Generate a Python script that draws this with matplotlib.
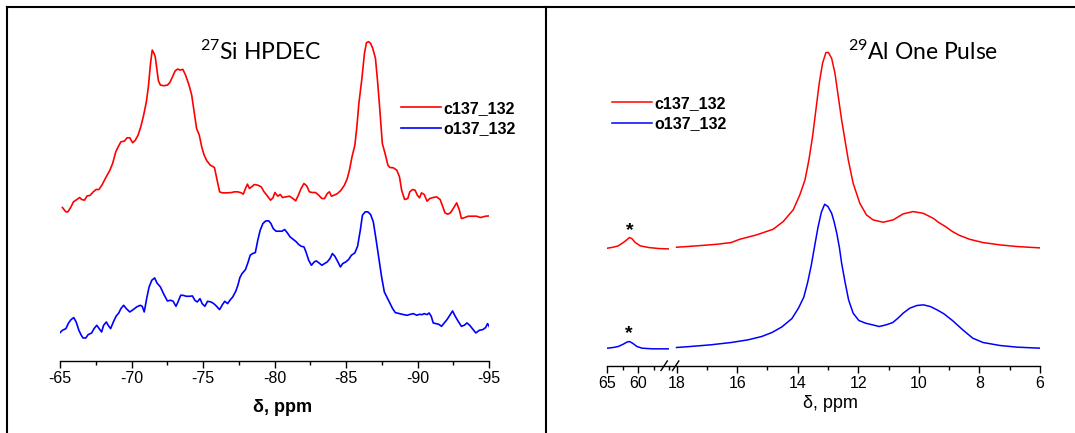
import matplotlib.pyplot as plt
from matplotlib.lines import Line2D
from matplotlib.ticker import MultipleLocator

plt.rcParams['font.family'] = ['Liberation Sans', 'DejaVu Sans']
plt.rcParams['mathtext.default'] = 'regular'
plt.rcParams['axes.unicode_minus'] = False

# ---- 27Si HPDEC spectra (stacked, arbitrary intensity units) ----
si_ppm_c = [-65.17, -65.41, -65.55, -65.77, -65.94, -66.18, -66.37, -66.52, -66.71, -66.90,
            -67.09, -67.33, -67.53, -67.72, -67.93, -68.17, -68.49, -68.68, -68.90, -69.07,
            -69.26, -69.50, -69.69, -69.88, -70.08, -70.27, -70.46, -70.65, -70.85, -71.04,
            -71.18, -71.33, -71.45, -71.57, -71.66, -71.78, -71.88, -72.02, -72.26, -72.51,
            -72.67, -72.87, -73.06, -73.23, -73.40, -73.59, -73.78, -74.02, -74.21, -74.36,
            -74.55, -74.74, -74.91, -75.08, -75.27, -75.51, -75.80, -75.99, -76.16, -76.35,
            -76.72, -77.00, -77.20, -77.44, -77.68, -77.82, -77.97, -78.11, -78.25, -78.40,
            -78.59, -78.83, -79.07, -79.27, -79.46, -79.72, -79.89, -80.03, -80.23, -80.40,
            -80.56, -80.80, -81.05, -81.29, -81.48, -81.67, -81.86, -82.06, -82.25, -82.44,
            -82.63, -82.87, -83.09, -83.31, -83.50, -83.69, -83.84, -83.98, -84.17, -84.41,
            -84.65, -84.89, -85.09, -85.25, -85.42, -85.62, -85.76, -85.90, -86.10, -86.29,
            -86.43, -86.58, -86.72, -86.87, -87.06, -87.20, -87.35, -87.54, -87.73, -87.93,
            -88.07, -88.31, -88.55, -88.74, -88.89, -89.10, -89.32, -89.46, -89.66, -89.83,
            -89.99, -90.14, -90.28, -90.47, -90.67, -90.86, -91.10, -91.34, -91.58, -91.73,
            -91.92, -92.11, -92.30, -92.50, -92.74, -92.93, -93.07, -93.31, -93.55, -93.84,
            -94.13, -94.40, -94.76, -95.05]
si_c = [46.0, 44.7, 44.7, 46.2, 47.7, 48.4, 49.0, 48.4, 48.2, 49.5,
        49.6, 50.7, 51.4, 51.4, 52.7, 54.7, 57.2, 59.2, 62.7, 64.2,
        65.7, 65.9, 66.9, 66.9, 65.4, 66.2, 67.7, 70.2, 73.7, 77.7,
        82.2, 89.2, 93.2, 92.2, 91.2, 87.2, 84.0, 82.7, 82.5, 82.7,
        83.4, 85.2, 87.0, 87.5, 87.2, 87.4, 85.7, 82.7, 79.7, 75.2,
        69.7, 67.7, 64.2, 61.7, 60.0, 58.7, 58.0, 54.2, 50.7, 50.4,
        50.4, 50.5, 50.7, 50.7, 50.4, 50.0, 51.7, 53.0, 51.7, 52.2,
        52.9, 52.7, 52.2, 50.7, 49.7, 48.2, 48.9, 50.5, 49.4, 49.9,
        49.0, 49.2, 49.4, 48.7, 48.0, 49.7, 51.7, 53.2, 52.5, 50.7,
        50.5, 50.5, 49.7, 48.7, 48.7, 50.2, 50.7, 49.4, 49.7, 50.2,
        51.2, 52.7, 54.7, 57.4, 61.2, 64.7, 70.2, 77.2, 84.2, 92.2,
        95.4, 95.7, 95.2, 93.7, 90.7, 84.2, 76.2, 65.2, 62.2, 58.7,
        58.0, 57.9, 57.2, 55.2, 51.2, 48.4, 48.7, 50.7, 51.4, 51.2,
        49.7, 48.9, 50.4, 49.9, 47.9, 48.7, 49.0, 49.2, 48.4, 46.7,
        44.4, 44.0, 44.4, 45.7, 47.4, 45.2, 42.7, 43.0, 43.4, 43.4,
        43.4, 43.0, 43.4, 43.5]

si_ppm_o = [-64.98, -65.17, -65.41, -65.60, -65.77, -65.96, -66.13, -66.32, -66.49, -66.61,
            -66.80, -66.97, -67.21, -67.38, -67.57, -67.74, -67.91, -68.05, -68.24, -68.37,
            -68.54, -68.73, -68.92, -69.11, -69.26, -69.45, -69.64, -69.88, -70.12, -70.36,
            -70.61, -70.75, -70.89, -71.06, -71.23, -71.42, -71.62, -71.78, -72.02, -72.26,
            -72.51, -72.75, -72.91, -73.11, -73.25, -73.44, -73.59, -73.83, -74.07, -74.26,
            -74.43, -74.60, -74.79, -74.94, -75.13, -75.32, -75.56, -75.75, -75.95, -76.16,
            -76.33, -76.52, -76.72, -76.88, -77.08, -77.29, -77.44, -77.58, -77.73, -77.97,
            -78.16, -78.30, -78.47, -78.66, -78.83, -79.00, -79.19, -79.39, -79.60, -79.75,
            -79.91, -80.11, -80.32, -80.52, -80.71, -80.90, -81.09, -81.33, -81.53, -81.67,
            -81.86, -82.06, -82.20, -82.39, -82.58, -82.78, -82.92, -83.11, -83.31, -83.50,
            -83.69, -83.88, -84.05, -84.22, -84.41, -84.61, -84.77, -84.99, -85.18, -85.38,
            -85.62, -85.81, -86.00, -86.15, -86.34, -86.53, -86.72, -86.91, -87.11, -87.30,
            -87.49, -87.68, -87.88, -88.07, -88.26, -88.45, -88.74, -89.03, -89.27, -89.51,
            -89.71, -89.95, -90.14, -90.33, -90.47, -90.67, -90.81, -90.96, -91.10, -91.29,
            -91.49, -91.68, -91.87, -92.06, -92.26, -92.45, -92.64, -92.83, -93.07, -93.27,
            -93.46, -93.65, -93.89, -94.08, -94.32, -94.56, -94.76, -94.90, -95.10]
si_o = [8.4, 9.2, 9.7, 11.4, 12.4, 13.0, 11.7, 9.2, 7.7, 6.9,
        6.9, 7.9, 8.4, 9.7, 10.7, 9.7, 8.7, 10.7, 11.7, 10.7,
        9.7, 11.7, 13.4, 14.4, 15.7, 16.7, 15.7, 14.7, 15.4, 16.2,
        16.7, 16.4, 14.7, 18.7, 22.2, 24.2, 24.9, 23.4, 22.2, 20.0,
        18.0, 18.2, 17.9, 16.4, 17.7, 19.7, 19.7, 19.4, 19.4, 19.5,
        18.2, 17.7, 18.7, 17.2, 16.4, 17.9, 17.7, 17.2, 16.4, 15.4,
        16.7, 17.9, 17.2, 18.2, 19.2, 20.9, 22.7, 25.0, 26.2, 27.4,
        29.7, 31.7, 32.2, 32.5, 36.2, 39.2, 41.2, 42.0, 42.0, 41.2,
        39.7, 38.9, 38.9, 38.9, 39.4, 38.4, 37.2, 36.4, 35.7, 35.0,
        34.4, 34.2, 32.7, 30.2, 28.7, 29.7, 30.0, 29.4, 28.7, 29.2,
        29.7, 30.7, 32.2, 31.4, 29.9, 28.2, 29.2, 29.7, 30.4, 31.7,
        32.4, 34.4, 39.2, 43.7, 44.7, 44.7, 43.9, 41.7, 36.2, 30.7,
        25.2, 20.7, 19.0, 17.4, 15.7, 14.5, 14.2, 13.9, 13.7, 14.0,
        14.2, 13.7, 14.0, 13.9, 14.2, 13.9, 14.4, 13.4, 11.4, 11.2,
        11.0, 10.4, 11.4, 12.4, 13.7, 15.0, 13.4, 12.0, 10.4, 10.7,
        11.4, 10.7, 9.4, 8.4, 9.2, 9.4, 10.0, 11.2, 9.7]

# ---- 29Al one pulse spectra: main region (18-6 ppm) ----
al_ppm_c = [18.00, 17.66, 17.21, 16.65, 16.20, 15.91, 15.36, 14.81, 14.48, 14.15,
            13.93, 13.76, 13.63, 13.51, 13.40, 13.29, 13.18, 13.07, 12.99, 12.88,
            12.77, 12.66, 12.55, 12.44, 12.33, 12.17, 11.95, 11.73, 11.51, 11.18,
            10.85, 10.52, 10.19, 9.86, 9.53, 9.34, 9.12, 8.89, 8.67, 8.33,
            7.88, 7.32, 6.75, 6.00]
al_c = [35.5, 35.7, 36.0, 36.4, 36.9, 37.9, 39.2, 40.9, 43.2, 46.7,
        51.2, 55.7, 61.7, 68.7, 76.7, 84.7, 90.7, 93.9, 94.0, 92.2,
        87.7, 80.7, 73.7, 67.7, 61.7, 54.7, 48.7, 45.2, 43.7, 43.0,
        43.7, 45.5, 46.2, 45.7, 44.2, 42.9, 41.7, 40.2, 39.1, 37.9,
        36.9, 36.2, 35.7, 35.3]

al_ppm_o = [18.00, 17.55, 16.88, 16.20, 15.64, 15.19, 14.85, 14.52, 14.19, 13.97,
            13.80, 13.67, 13.55, 13.44, 13.33, 13.22, 13.11, 13.00, 12.88, 12.80,
            12.71, 12.62, 12.55, 12.43, 12.32, 12.17, 11.98, 11.76, 11.53, 11.31,
            11.08, 10.86, 10.69, 10.52, 10.30, 10.07, 9.85, 9.62, 9.40, 9.17,
            8.89, 8.55, 8.22, 7.88, 7.32, 6.75, 6.00]
al_o = [5.4, 5.7, 6.2, 6.9, 7.7, 8.7, 9.9, 11.6, 14.1, 17.3,
        20.5, 25.0, 30.2, 35.9, 41.5, 46.0, 48.4, 47.7, 45.7, 43.2,
        39.7, 35.2, 30.7, 24.7, 19.7, 15.7, 13.5, 12.7, 12.2, 11.7,
        12.2, 12.9, 14.2, 15.7, 17.2, 18.0, 18.2, 17.7, 16.7, 15.5,
        13.5, 10.7, 8.2, 6.9, 6.0, 5.5, 5.2]

# spinning sideband region (65-55 ppm)
ssb_ppm_c = [65.0, 64.07, 63.24, 62.42, 61.87, 61.43, 61.04, 60.49, 59.67, 58.30, 56.65, 55.16]
ssb_c = [35.2, 35.5, 35.9, 36.9, 37.7, 38.4, 38.1, 36.9, 35.9, 35.4, 35.1, 35.0]
ssb_ppm_o = [65.0, 64.07, 63.24, 62.42, 61.87, 61.43, 60.93, 60.22, 59.40, 57.75, 55.16]
ssb_o = [5.2, 5.4, 5.7, 6.4, 7.0, 7.2, 6.7, 5.7, 5.2, 5.0, 5.0]

# sideband markers (ppm, intensity)
star_c = (61.32, 40.6)
star_o = (61.59, 9.6)

labels = ['c137_132', 'o137_132']
colors = ['#FF0000', '#0000FF']

W, H = 1075, 433
fig = plt.figure(figsize=(W / 100, H / 100), dpi=100)


def box(x0, y0, x1, y1):
    # pixel box measured from the top-left corner -> figure fractions
    return [x0 / W, 1 - y1 / H, (x1 - x0) / W, (y1 - y0) / H]


def px(x, y):
    return x / W, 1 - y / H


def style(ax, major, minor, size):
    for s in ['top', 'left', 'right']:
        ax.spines[s].set_visible(False)
    ax.spines['bottom'].set_linewidth(1.0)
    ax.set_yticks([])
    ax.patch.set_alpha(0)
    ax.xaxis.set_major_locator(MultipleLocator(major))
    ax.xaxis.set_minor_locator(MultipleLocator(minor))
    ax.tick_params(axis='x', which='major', direction='out', length=5, width=1,
                   labelsize=size, pad=2.5)
    ax.tick_params(axis='x', which='minor', direction='out', length=2.8, width=1)


legend_kw = dict(loc='upper left', bbox_transform=fig.transFigure, frameon=False,
                 borderpad=0, borderaxespad=0, handlelength=2.5, handletextpad=0.15,
                 labelspacing=0.33, prop={'weight': 'bold', 'size': 11.5})

# ---- left panel ----
ax1 = fig.add_axes(box(60, 10, 489, 361))
ax1.plot(si_ppm_c, si_c, color=colors[0], lw=1.2, label=labels[0])
ax1.plot(si_ppm_o, si_o, color=colors[1], lw=1.2, label=labels[1])
ax1.set_xlim(-65, -95)
ax1.set_ylim(0, 105.2)
style(ax1, 5, 2.5, 11.5)
ax1.set_xticks(range(-65, -96, -5))
ax1.legend(bbox_to_anchor=px(401, 101), **legend_kw)
fig.text(*px(261, 59.5), '$^{27}$Si HPDEC', family='Lato', fontsize=16.5,
         ha='center', va='baseline')
fig.text(*px(283, 408), 'δ, ppm', fontsize=13, fontweight='bold', ha='center', va='center')

# ---- right panel: broken x axis ----
ax2 = fig.add_axes(box(607.3, 10, 669.3, 365.5))
ax3 = fig.add_axes(box(669.3, 10, 1040, 365.5))
ax2.plot(ssb_ppm_c, ssb_c, color=colors[0], lw=1.1)
ax2.plot(ssb_ppm_o, ssb_o, color=colors[1], lw=1.1)
ax3.plot(al_ppm_c, al_c, color=colors[0], lw=1.1, label=labels[0])
ax3.plot(al_ppm_o, al_o, color=colors[1], lw=1.1, label=labels[1])
ax2.set_xlim(65, 55)
ax3.set_xlim(18.24, 6)
for ax in (ax2, ax3):
    ax.set_ylim(0, 106.7)
style(ax2, 5, 2.5, 11.5)
style(ax3, 2, 1, 11.5)
ax2.set_xticks([65, 60])
ax3.set_xticks(range(18, 5, -2))

for (x, y) in (star_c, star_o):
    ax2.text(x, y, '*', fontsize=14, fontweight='bold', ha='center', va='center')

ax3.legend(bbox_to_anchor=px(612, 96), **legend_kw)
fig.text(*px(923, 59.5), '$^{29}$Al One Pulse', family='Lato', fontsize=16.5,
         ha='center', va='baseline')
fig.text(*px(830, 403), 'δ, ppm', fontsize=13, ha='center', va='center')

# axis break marks
for x0 in (661, 672.5):
    fig.add_artist(Line2D([px(x0, 0)[0], px(x0 + 6.3, 0)[0]],
                          [px(0, 370.5)[1], px(0, 361)[1]],
                          transform=fig.transFigure, color='black', lw=1.0))

# panel frame
frame = dict(transform=fig.transFigure, color='black', lw=1.5)
fig.add_artist(Line2D([7 / W, 1], [1 - 7 / H, 1 - 7 / H], **frame))
for x in (7, 546):
    fig.add_artist(Line2D([x / W, x / W], [0, 1 - 7 / H], **frame))

fig.savefig('out.png', dpi=100)
